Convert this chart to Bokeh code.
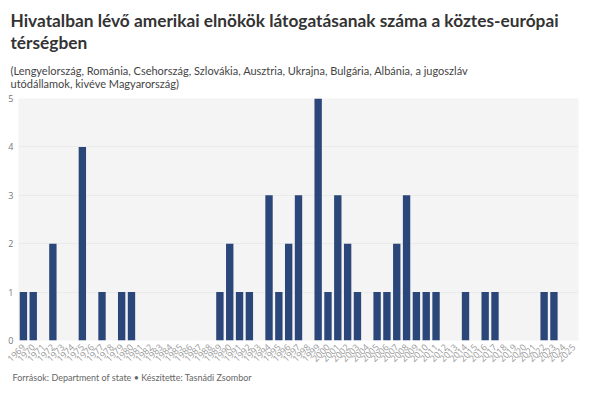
import math
from bokeh.plotting import figure
from bokeh.models import ColumnDataSource, Range1d, FactorRange, Title
from bokeh.embed import file_html
from bokeh.resources import INLINE

years = [str(y) for y in range(1969, 2026)]
visits = [1, 1, 0, 2, 0, 0, 4, 0, 1, 0, 1, 1,
          0, 0, 0, 0, 0, 0, 0, 0,
          1, 2, 1, 1, 0, 3, 1, 2, 3, 0, 5, 1, 3, 2, 1, 0,
          1, 1, 2, 3, 1, 1, 1, 0, 0, 1, 0, 1, 1,
          0, 0, 0, 0, 1, 1, 0, 0]
y_ticks = [0, 1, 2, 3, 4, 5]

title_text = "Hivatalban lévő amerikai elnökök látogatásanak száma a köztes-európai\ntérségben"
subtitle_text = "(Lengyelország, Románia, Csehország, Szlovákia, Ausztria, Ukrajna, Bulgária, Albánia, a jugoszláv\nutódállamok, kivéve Magyarország)"
footer_text = "Források: Department of state • Készítette: Tasnádi Zsombor"

src = ColumnDataSource(data=dict(year=years, visits=visits))

p = figure(width=589, height=383, output_backend="svg", toolbar_location=None,
           x_range=FactorRange(factors=years), y_range=Range1d(0, 5),
           min_border_left=18, min_border_right=11, min_border_top=0, min_border_bottom=0)

p.vbar(x="year", top="visits", width=0.75, source=src, color="#2b4679", line_color=None)

p.background_fill_color = "#f4f4f4"
p.border_fill_color = "white"
p.outline_line_color = None
p.xgrid.grid_line_color = None
p.ygrid.grid_line_color = "#eaeaea"
p.ygrid.grid_line_width = 1

p.yaxis.ticker = y_ticks
p.yaxis.axis_line_color = None
p.yaxis.major_tick_line_color = None
p.yaxis.minor_tick_line_color = None
p.yaxis.major_tick_out = 0
p.yaxis.major_tick_in = 0
p.yaxis.major_label_text_font = "Open Sans"
p.yaxis.major_label_text_font_size = "9px"
p.yaxis.major_label_text_color = "#777777"
p.yaxis.major_label_standoff = 5

p.xaxis.axis_line_color = None
p.xaxis.major_tick_line_color = None
p.xaxis.major_tick_out = 0
p.xaxis.major_tick_in = 0
p.xaxis.major_label_orientation = math.pi / 4
p.xaxis.major_label_text_font = "Open Sans"
p.xaxis.major_label_text_font_size = "9px"
p.xaxis.major_label_text_color = "#999999"
p.xaxis.major_label_standoff = 5

p.add_layout(Title(text=footer_text, text_font="Lato", text_font_size="9px",
                   text_color="#666666", text_font_style="normal", offset=-6,
                   standoff=2), "below")

p.add_layout(Title(text=subtitle_text, text_font="Lato", text_font_size="11px",
                   text_color="#444444", text_font_style="normal", text_line_height=1.02,
                   offset=-8, standoff=17), "above")
p.add_layout(Title(text=title_text, text_font="Lato", text_font_size="17.3px",
                   text_color="#333333", text_font_style="bold", text_line_height=1.05,
                   offset=-8, standoff=0), "above")
p.add_layout(Title(text=" ", text_font_size="5px", standoff=0), "above")

open("out.html", "w").write(file_html(p, INLINE))
